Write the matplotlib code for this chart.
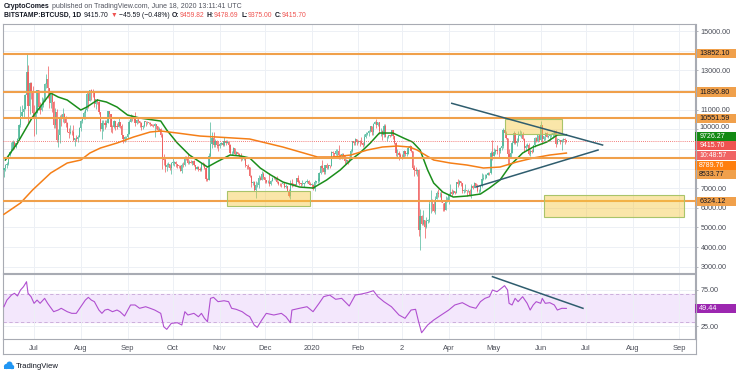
import matplotlib.pyplot as plt
from matplotlib.patches import Rectangle, Circle
from matplotlib.lines import Line2D
from matplotlib.transforms import blended_transform_factory
import numpy as np

plt.rcParams['font.family'] = ['Liberation Sans', 'DejaVu Sans']

# BITSTAMP:BTCUSD daily candles, 2019-06-11 .. 2020-06-18 (day 0 = 2019-07-01)
first_open = 7950
closes = [
    8010, 8180, 8230, 8690, 8850, 8980, 9330, 9080, 9280, 9530, 10210, 10690, 10860, 11020, 11750, 12940, 11180, 12370, 11860, 10820,
    10590, 10830, 11980, 11160, 10980, 11260, 11480, 12290, 12580, 12110, 11360, 11810, 11380, 10200, 10860, 9450, 9690, 10640, 10530, 10760, 10590, 10330, 9880, 9790, 9880, 9850, 9480, 9540, 9520, 9600, 10080,
    10400, 10530, 10820, 10980, 11800, 11460, 11980, 11960, 11860, 11290, 11550, 11390, 10860, 10020, 10300, 10330, 10220, 10340, 10920, 10760, 10130, 10120, 10400, 10140, 10130, 10370, 10170, 9720, 9490, 9590, 9600,
    9770, 10380, 10620, 10580, 10570, 10310, 10480, 10400, 10330, 10120, 10160, 10420, 10360, 10370, 10310, 10260, 10190, 10150, 10280, 10170, 9990, 10030, 9690, 8530, 8430, 8060, 8190, 8210, 8040, 8300,
    8300, 8340, 8230, 8150, 8140, 7870, 8200, 8180, 8590, 8580, 8260, 8310, 8290, 8370, 8160, 8000, 8080, 7960, 7950, 8230, 8210, 8030, 7470, 7430, 8660, 9250, 9550, 9220, 9430, 9200, 9150,
    9250, 9310, 9210, 9410, 9320, 9340, 9200, 8770, 8810, 9040, 8720, 8820, 8760, 8640, 8470, 8500, 8500, 8180, 8120, 8080, 7620, 7280, 7330, 6900, 7140, 7170, 7510, 7430, 7740, 7560,
    7410, 7300, 7300, 7200, 7390, 7530, 7500, 7520, 7340, 7220, 7200, 7190, 7250, 7070, 7110, 6880, 6620, 7280, 7150, 7190, 7140, 7510, 7320, 7250, 7200, 7200, 7250, 7300, 7380, 7220, 7170,
    7180, 6950, 7340, 7350, 7350, 7760, 8150, 8050, 7820, 8190, 8020, 8170, 8110, 8820, 8800, 8720, 8900, 8900, 8700, 8630, 8730, 8660, 8390, 8430, 8340, 8600, 8900, 9390, 9290, 9500, 9350,
    9380, 9340, 9290, 9180, 9620, 9750, 9800, 9900, 10150, 9850, 10270, 10350, 10240, 10370, 9900, 9930, 9700, 10180, 9600, 9610, 9690, 9670, 9960, 9660, 9310, 8780, 8790, 8680, 8540,
    8530, 8920, 8760, 8760, 9070, 9150, 8900, 8030, 7930, 7900, 7950, 4860, 5600, 5160, 5360, 5020, 5330, 5400, 6180, 6200, 6190, 5830, 6470, 6740, 6680, 6730, 6370, 6250, 5880, 6390, 6410,
    6640, 6800, 6730, 6860, 6770, 7340, 7200, 7370, 7290, 6860, 6890, 6910, 6850, 6860, 6630, 7110, 7030, 7260, 7130, 6840, 6850, 7130, 7490, 7500, 7540, 7690, 7790, 7760, 8780, 8620,
    8830, 8970, 8900, 8890, 9030, 9150, 9990, 9810, 9540, 8720, 8560, 8810, 9310, 9790, 9310, 9380, 9670, 9730, 9780, 9510, 9060, 9170, 9180, 8720, 8900, 8840, 9200, 9580, 9420, 9700, 9450,
    10200, 9520, 9660, 9790, 9620, 9670, 9750, 9780, 9780, 9890, 9270, 9470, 9480, 9330, 9440, 9520, 9460, 9415.70,
]
highs = [
    8050, 8250, 8320, 8700, 8900, 9350, 9450, 9340, 9320, 9580, 10260, 11200, 11250, 11120, 11790, 13880, 13300, 12400, 12400, 12200,
    11250, 11150, 12000, 12020, 11390, 11650, 11600, 12360, 12800, 13200, 12100, 11950, 11850, 11430, 11100, 11030, 10000, 10750, 10800, 11100, 10840, 10660, 10360, 10050, 10200, 9950, 10200, 9580, 9700, 9720, 10100,
    10460, 10650, 10930, 11080, 11920, 11950, 12010, 12050, 12040, 11950, 11550, 11540, 11420, 10880, 10450, 10480, 10450, 10490, 10950, 10930, 10770, 10230, 10450, 10420, 10320, 10620, 10390, 10290, 9720, 9660, 9680,
    9820, 10450, 10780, 10750, 10650, 10900, 10520, 10590, 10430, 10390, 10200, 10440, 10440, 10400, 10380, 10380, 10260, 10250, 10300, 10290, 10170, 10100, 10050, 9800, 8750, 8580, 8290, 8340, 8250, 8330,
    8530, 8380, 8400, 8220, 8180, 8200, 8300, 8320, 8660, 8650, 8800, 8420, 8460, 8400, 8420, 8180, 8140, 8120, 8090, 8290, 8320, 8300, 8080, 7500, 8800, 10350, 9860, 9860, 9520, 9450, 9380,
    9280, 9360, 9380, 9590, 9470, 9450, 9380, 9230, 8880, 9110, 9060, 8920, 8850, 8800, 8780, 8560, 8650, 8520, 8200, 8210, 8100, 7680, 7360, 7380, 7380, 7340, 7650, 7620, 7860, 7830,
    7560, 7430, 7400, 7750, 7420, 7560, 7620, 7570, 7610, 7390, 7270, 7270, 7290, 7270, 7190, 7130, 6950, 7400, 7460, 7240, 7190, 7520, 7660, 7430, 7280, 7440, 7270, 7370, 7480, 7410, 7300,
    7250, 7220, 7400, 7390, 7500, 7800, 8200, 8450, 8080, 8200, 8300, 8200, 8190, 8880, 8900, 8800, 9000, 8990, 9180, 8730, 8770, 8800, 8680, 8500, 8440, 8620, 8980, 9400, 9420, 9560, 9530,
    9450, 9470, 9600, 9340, 9750, 9860, 9880, 9950, 10150, 10150, 10300, 10420, 10500, 10390, 10390, 10060, 9980, 10250, 10250, 9680, 9730, 9700, 9990, 9990, 9680, 9370, 8980, 8900, 8800,
    8750, 8950, 8910, 8840, 9150, 9190, 9170, 8900, 8160, 8100, 7980, 7970, 5960, 5650, 5900, 5360, 5550, 5420, 6400, 6900, 6440, 6390, 6600, 6850, 6950, 6800, 6850, 6270, 6230, 6600, 6530,
    6740, 7200, 6980, 6900, 6880, 7340, 7450, 7400, 7380, 7290, 6940, 7190, 6930, 6980, 6940, 7200, 7150, 7310, 7270, 7230, 6940, 7150, 7750, 7730, 7700, 7720, 7800, 7800, 8880, 9450,
    9050, 9000, 9180, 8950, 9100, 9400, 10050, 10050, 9900, 9570, 9020, 8970, 9400, 9930, 9830, 9580, 9890, 9950, 9900, 9850, 9570, 9270, 9300, 9300, 8980, 9000, 9220, 9620, 9600, 9720, 9700,
    10420, 10230, 9680, 9880, 9850, 9720, 9780, 9800, 9880, 9990, 9940, 9560, 9500, 9480, 9490, 9580, 9560, 9478.69,
]
lows = [
    7550, 7880, 8030, 8180, 8650, 8780, 8950, 8990, 9030, 9250, 9530, 10100, 10560, 10600, 11010, 11650, 10300, 10800, 11520, 10750,
    9650, 9770, 10820, 11000, 10800, 10950, 11150, 11460, 12100, 11580, 11080, 11100, 10870, 10080, 10080, 9360, 9100, 9300, 10150, 10380, 10300, 10100, 9850, 9550, 9770, 9700, 9400, 9150, 9400, 9370, 9600,
    9900, 10340, 10520, 10530, 10940, 11100, 11450, 11500, 11670, 11150, 11050, 11300, 10790, 9930, 9500, 9900, 10000, 10100, 10300, 10600, 9870, 9800, 10050, 9950, 10020, 10120, 10050, 9640, 9320, 9350, 9450,
    9580, 9760, 10380, 10400, 10470, 10150, 10290, 10330, 10100, 9940, 10000, 10130, 10170, 10290, 10260, 10160, 10150, 10120, 9630, 10000, 9900, 9900, 9620, 8000, 8200, 7850, 7900, 8080, 7910, 7720,
    8200, 8130, 8070, 8050, 8020, 7860, 7780, 8060, 8150, 8450, 8240, 8220, 8260, 8200, 8120, 7930, 7980, 7880, 7880, 7890, 8130, 8000, 7390, 7350, 7400, 8600, 9050, 9100, 9100, 9060, 8900,
    9050, 9200, 9140, 9170, 9190, 9290, 9080, 8720, 8690, 8750, 8680, 8700, 8710, 8600, 8390, 8420, 8420, 8080, 7970, 7990, 7570, 7060, 7160, 6850, 6520, 7050, 7000, 7410, 7420, 7450,
    7250, 7250, 7250, 7100, 7150, 7360, 7450, 7400, 7290, 7150, 7130, 7080, 7210, 7030, 7020, 6840, 6560, 6430, 7080, 7120, 7100, 7140, 7280, 7160, 7120, 7150, 7080, 7240, 7280, 7200, 7140,
    7150, 6900, 6860, 7260, 7290, 7330, 7700, 7850, 7720, 7720, 8000, 7970, 8050, 8110, 8600, 8600, 8670, 8550, 8500, 8500, 8480, 8600, 8250, 8240, 8240, 8310, 8570, 8850, 9210, 9200, 9200,
    9300, 9150, 9250, 9100, 9150, 9550, 9720, 9670, 9870, 9720, 9730, 10250, 10090, 10180, 9770, 9650, 9480, 9630, 9590, 9400, 9570, 9600, 9640, 9520, 9260, 8620, 8530, 8450, 8520,
    8500, 8520, 8650, 8660, 8740, 9010, 8850, 8000, 7640, 7700, 7600, 4570, 3850, 5100, 5110, 4450, 4950, 5250, 5260, 5740, 5850, 5780, 5700, 6430, 6530, 6530, 6300, 5860, 5860, 5870, 6300,
    6170, 6580, 6620, 6680, 6700, 6770, 7080, 7150, 7110, 6780, 6770, 6800, 6600, 6790, 6620, 6480, 6960, 7040, 7120, 6800, 6760, 6830, 7070, 7420, 7460, 7510, 7660, 7680, 7720, 8450,
    8620, 8760, 8730, 8530, 8780, 8930, 9030, 9750, 9520, 8200, 8250, 8530, 8800, 9260, 9250, 9150, 9350, 9660, 9540, 9460, 8850, 8950, 9100, 8700, 8640, 8810, 8830, 9100, 9350, 9370, 9380,
    9420, 9270, 9380, 9460, 9590, 9560, 9380, 9630, 9580, 9680, 9100, 9250, 9390, 9260, 8930, 9370, 9270, 9375,
]

# moving averages (day, price)
green_day = [-19, -11, -1, 11, 16, 22, 31, 35, 42, 48, 55, 62, 70, 84, 88, 95, 103, 110, 115, 121, 130, 137, 143, 150, 157,
             165, 176, 185, 194, 203, 210, 216, 223, 229, 234, 238, 245, 251, 256, 261, 265, 271, 278, 287, 296, 302, 309,
             316, 324, 331, 340, 347, 353]
green_val = [8436, 9302, 10626, 11849, 11645, 11492, 10983, 11135, 11492, 11390, 11135, 10727, 10575, 10422, 9963, 9302,
             8691, 8334, 8079, 8334, 8691, 8640, 8538, 8028, 7671, 7315, 7060, 7009, 7417, 7926, 8436, 8792, 9302, 9811,
             9811, 9811, 9557, 9353, 8945, 7926, 7264, 6805, 6551, 6602, 6703, 7009, 7417, 8181, 8792, 9098, 9353, 9709, 9726]
orange_day = [-20, -9, -1, 11, 22, 31, 37, 44, 55, 66, 77, 84, 95, 110, 121, 132, 143, 165, 188, 198, 210, 221, 231, 241,
              249, 254, 265, 276, 287, 298, 309, 320, 331, 342, 353]
orange_val = [5669, 6245, 6907, 7773, 8283, 8436, 8792, 9047, 9302, 9608, 9862, 9913, 9811, 9658, 9608, 9557, 9506, 9098,
              8589, 8589, 8690, 8945, 9098, 9149, 9098, 8945, 8436, 8283, 8181, 8028, 8079, 8334, 8538, 8690, 8790]

# RSI (day, value)
rsi_day = [-20, -18, -15, -13, -11, -9, -7, -5, -4, -2, 0, 2, 4, 7, 9, 13, 16, 18, 22, 25, 28, 31, 34, 36, 38, 40, 43, 45,
           47, 49, 52, 55, 57, 60, 64, 67, 70, 74, 77, 80, 84, 86, 88, 91, 95, 98, 100, 102, 106, 109, 111, 113, 115, 117,
           119, 122, 126, 129, 131, 134, 138, 141, 143, 146, 148, 151, 154, 159, 164, 167, 170, 171, 176, 181, 185, 189,
           192, 196, 200, 204, 209, 213, 217, 221, 225, 228, 232, 237, 242, 246, 250, 253, 255, 257, 261, 265, 270, 275,
           279, 284, 289, 293, 296, 299, 302, 304, 307, 309, 312, 314, 315, 317, 319, 321, 324, 327, 329, 331, 333, 336,
           337, 339, 342, 345, 347, 350, 353]
rsi_val = [51.8, 61, 68, 70.4, 66.7, 75, 79.6, 86.5, 70.4, 65.7, 56.5, 61, 56.5, 63.4, 56.5, 44.9, 47.2, 49.6, 44.9, 42.6,
           42.6, 51.8, 61, 64.8, 61, 58.8, 47.2, 42.6, 47.2, 48.2, 44.9, 47.2, 44.9, 38.9, 54.2, 54.2, 49.6, 51.8, 49.6,
           47.2, 42.6, 24, 20.4, 28.7, 29.6, 26.4, 44.9, 40.3, 42.6, 37.9, 42.6, 35.7, 31, 63.4, 64.8, 58.8, 60.1, 58.8,
           49.6, 48.2, 44.9, 40.3, 38, 26.4, 23.2, 33.3, 42.6, 40.3, 42.6, 37.9, 29.6, 47.2, 49.6, 51.8, 44.9, 56.5, 65.7,
           68, 62.1, 63.4, 52.8, 68, 69.4, 71.3, 74, 65.7, 58.8, 51.8, 40.3, 35.7, 47.2, 48.2, 31, 15.7, 26.4, 33.3, 40.3,
           47.2, 54.2, 57.4, 51.8, 49.6, 58.8, 63.4, 65.7, 75, 72.6, 75.9, 81, 75, 56.5, 54.2, 63.4, 58.8, 65.7, 56.5,
           47.2, 54.2, 58.8, 56.5, 63.4, 56.5, 57.4, 54.2, 47.2, 49.6, 49.44]

levels = [13852.10, 11896.80, 10551.59, 8533.77, 6324.12]
# zones: (first day, last day, low, high)
zones = [(128, 183, 6077, 6872), (312, 350, 9760, 10550), (338, 431, 5547, 6652)]
trend_days = [(277, 377), (293, 374)]
trend_prices = [(11324, 9200), (7060, 8945)]
rsi_trend_days = (304, 364)
rsi_trend_vals = (93.5, 49.6)

month_days = [0, 31, 62, 92, 123, 153, 184, 215, 244, 275, 305, 336, 366, 397, 428]
month_labels = ['Jul', 'Aug', 'Sep', 'Oct', 'Nov', 'Dec', '2020', 'Feb', '2', 'Apr', 'May', 'Jun', 'Jul', 'Aug', 'Sep']

W, H = 736, 375
fig = plt.figure(figsize=(W / 100, H / 100), dpi=100)
ax = fig.add_axes([3 / W, 1 - 273 / H, 692 / W, 249 / H])
rax = fig.add_axes([3 / W, 1 - 339 / H, 692 / W, 65 / H], sharex=ax)

grid_c = '#edf0f5'
spine_c = '#a8abb3'
txt_c = '#4a4d57'

# --- price pane ---
days = np.arange(len(closes)) - 20
c = np.array(closes, dtype=float)
o = np.array([first_open] + closes[:-1], dtype=float)
col = np.where(c >= o, '#4fb89a', '#ef5b5b')
ax.vlines(days, lows, highs, colors=col, lw=0.6, alpha=0.85, zorder=3)
ax.bar(days, np.maximum(np.abs(c - o), 20), bottom=np.minimum(o, c), width=0.8,
       color=col, alpha=0.85, linewidth=0, zorder=3)

ax.plot(green_day, green_val, color='#1b8e1b', lw=1.1, zorder=4)
ax.plot(orange_day, orange_val, color='#f57f17', lw=1.1, zorder=4)

for lv in levels:
    ax.axhline(lv, color='#f0a04b', lw=1.5, zorder=5)
ax.axhline(closes[-1], color='#ef5350', lw=0.6, ls=(0, (1, 1.5)), zorder=4)

for d0, d1, p0, p1 in zones:
    ax.add_patch(Rectangle((d0, p0), d1 - d0, p1 - p0, facecolor='#f5c842', alpha=0.45,
                           edgecolor='none', zorder=6))
    ax.add_patch(Rectangle((d0, p0), d1 - d0, p1 - p0, facecolor='none',
                           edgecolor='#a9c46a', lw=0.8, zorder=6))

for (d0, d1), (p0, p1) in zip(trend_days, trend_prices):
    ax.plot([d0, d1], [p0, p1], color='#2f5d6e', lw=1.1, zorder=7)

ylo, yhi = 2680, 15365
ax.set_xlim(-20.6, 438.3)
ax.set_ylim(ylo, yhi)
ax.set_yticks(range(3000, 15001, 1000))
hidden = {8000, 9000, 10000, 12000, 14000}
ax.set_yticklabels(['' if v in hidden else f'{v}.00' for v in range(3000, 15001, 1000)])
ax.yaxis.tick_right()
ax.tick_params(axis='y', length=2.5, width=0.6, color=spine_c, labelsize=5.2, labelcolor=txt_c, pad=1.5)
ax.tick_params(axis='x', length=0, labelbottom=False)
ax.set_xticks(month_days)
ax.grid(True, color=grid_c, lw=0.7, zorder=0)
for s in ax.spines.values():
    s.set_color(spine_c)
    s.set_linewidth(0.8)

# price tags on the axis
bt = blended_transform_factory(ax.transAxes, ax.transData)
half = (yhi - ylo) / 249 * 4.6
# the 10000 label sits a little above its tick, half hidden by the tag below it
ax.text(1.0065, 10100, '10000.00', transform=bt, ha='left', va='center', fontsize=5.2,
        color=txt_c, clip_on=False, zorder=9)


def price_tag(a, tr, y, h, text, bg, fg, size=5.2):
    a.add_patch(Rectangle((1.0, y - h), 0.062, 2 * h, transform=tr, facecolor=bg,
                          edgecolor='none', clip_on=False, zorder=10))
    a.text(1.006, y, text, transform=tr, ha='left', va='center', fontsize=size,
           color=fg, clip_on=False, zorder=11)


for lv in [13852.10, 11896.80, 10551.59, 6324.12]:
    price_tag(ax, bt, lv, half, f'{lv:.2f}', '#f0a04b', '#131722')
tag_slots = [9648, 9179, 8660, 8160, 7692]
price_tag(ax, bt, tag_slots[0], half, '9726.27', '#138a13', 'white', 5.0)
price_tag(ax, bt, tag_slots[1], half, f'{closes[-1]:.2f}', '#ef5350', 'white', 5.0)
price_tag(ax, bt, tag_slots[2], half, '10:48:57', '#f06464', 'white', 5.0)
price_tag(ax, bt, tag_slots[3], half, '8789.76', '#ff7f0e', 'white', 5.0)
price_tag(ax, bt, tag_slots[4], half, '8533.77', '#f0a04b', '#131722', 5.0)

# --- RSI pane ---
rax.axhspan(30, 70, color='#f3e7fc', zorder=0)
for lv in (70, 30):
    rax.axhline(lv, color='#c6a6d6', lw=0.6, ls=(0, (4, 3)), zorder=1)
rax.plot(rsi_day, rsi_val, color='#b04fd0', lw=0.8, zorder=3)
rax.plot(rsi_trend_days, rsi_trend_vals, color='#2f5d6e', lw=1.1, zorder=4)
rax.set_ylim(7, 97.2)
rax.set_yticks([25, 75])
rax.set_yticklabels(['25.00', '75.00'])
rax.yaxis.tick_right()
rax.tick_params(axis='y', length=2.5, width=0.6, color=spine_c, labelsize=5.2, labelcolor=txt_c, pad=1.5)
rax.set_xticks(month_days)
rax.set_xticklabels(month_labels)
rax.tick_params(axis='x', length=0, labelsize=5.4, labelcolor=txt_c, pad=4)
rax.grid(True, color=grid_c, lw=0.7, zorder=0)
for s in rax.spines.values():
    s.set_color(spine_c)
    s.set_linewidth(0.8)
rbt = blended_transform_factory(rax.transAxes, rax.transData)
price_tag(rax, rbt, rsi_val[-1], (97.2 - 7) / 65 * 4.6, f'{rsi_val[-1]:.2f}', '#9c27b0', 'white')

# time axis frame
for x0, y0, x1, y1 in [(3, 354, 696, 354), (3, 339, 3, 354), (696, 339, 696, 354), (696, 24, 696, 339)]:
    fig.add_artist(Line2D([x0 / W, x1 / W], [1 - y0 / H, 1 - y1 / H], color=spine_c, lw=0.8))

# header text
renderer = fig.canvas.get_renderer()


def text_run(x, y, parts, size):
    for s, color, bold, gap in parts:
        t = fig.text(x / W, 1 - y / H, s, color=color, fontsize=size,
                     fontweight='bold' if bold else 'normal', ha='left', va='center')
        x = t.get_window_extent(renderer).x1 + gap


dark = '#131722'
red = '#ef5350'
text_run(4, 6, [('CryptoComes', dark, True, 2), ('published on TradingView.com, June 18, 2020 13:11:41 UTC', '#50535e', False, 0)], 5.0)
text_run(4, 15.5, [('BITSTAMP:BTCUSD, 1D', dark, True, 2.5), ('9415.70', dark, False, 2), ('▼', red, False, 2),
                   ('−45.59 (−0.48%)', dark, False, 2.5),
                   ('O:', dark, True, 0), ('9459.82', red, False, 2.5),
                   ('H:', dark, True, 0), ('9478.69', red, False, 2.5),
                   ('L:', dark, True, 0), ('9375.00', red, False, 2.5),
                   ('C:', dark, True, 0), ('9415.70', red, False, 0)], 4.9)

# TradingView footer logo
for cx, cy, r in [(6.5, 366.5, 2.6), (9.5, 364.5, 3.0), (12, 367, 2.2)]:
    fig.add_artist(Circle((cx / 100, (H - cy) / 100), r / 100, transform=fig.dpi_scale_trans,
                          facecolor='#2196f3', edgecolor='none'))
fig.add_artist(Rectangle((4 / 100, (H - 369.2) / 100), 9.5 / 100, 2.5 / 100, transform=fig.dpi_scale_trans,
                         facecolor='#2196f3', edgecolor='none'))
fig.text(15.5 / W, 1 - 366 / H, 'TradingView', fontsize=5.6, color=dark, ha='left', va='center')

fig.savefig('out.png', dpi=100, facecolor='white')
